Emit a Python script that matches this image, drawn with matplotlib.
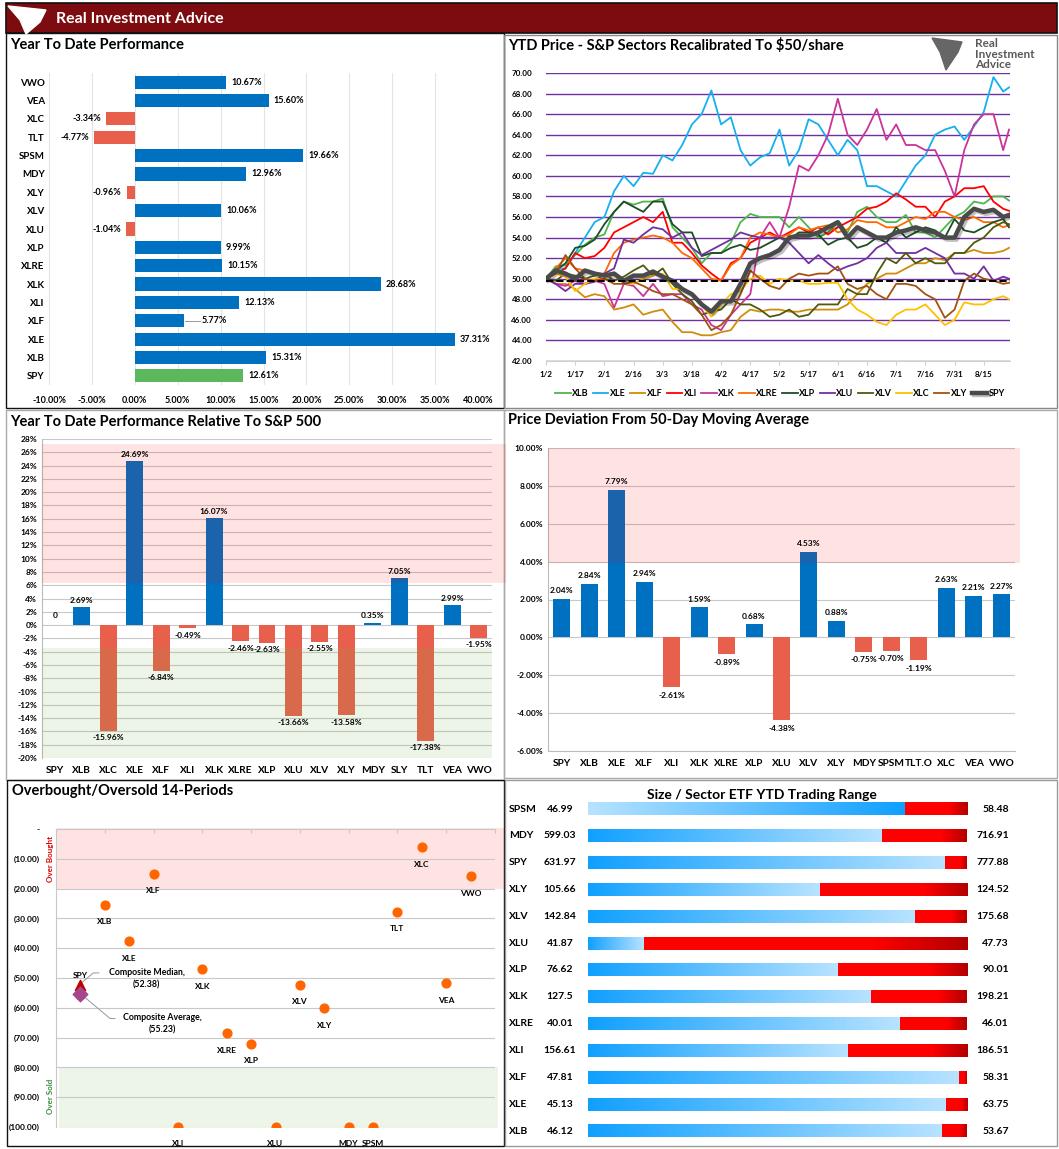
import matplotlib.pyplot as plt
import matplotlib.patheffects as pe
import numpy as np
import pandas as pd
from matplotlib.colors import LinearSegmentedColormap
from matplotlib.patches import Rectangle

plt.rcParams['font.family'] = ['Lato', 'DejaVu Sans']

# ---------------- data ----------------
# YTD performance (top left)
ytd_tickers = ["VWO", "VEA", "XLC", "TLT", "SPSM", "MDY", "XLY", "XLV", "XLU",
               "XLP", "XLRE", "XLK", "XLI", "XLF", "XLE", "XLB", "SPY"]
ytd_values = [10.67, 15.60, -3.34, -4.77, 19.66, 12.96, -0.96, 10.06, -1.04,
              9.99, 10.15, 28.68, 12.13, 5.77, 37.31, 15.31, 12.61]

# YTD price recalibrated to $50 (top right), sampled every 5 days + last day
line_dates = list(pd.date_range("2025-01-02", "2025-08-25", freq="5D")) + [pd.Timestamp("2025-08-28")]
date_ticks = pd.date_range("2025-01-02", "2025-08-15", freq="15D")
xlb = [50, 51.2, 51.3, 52.3, 53.3, 54, 54.3, 56.5, 57.5, 57.2, 57.5, 57.5, 57.8, 55, 54, 53,
       51.5, 52.5, 52.5, 53.5, 55.5, 56.3, 56, 56, 56, 55, 56, 55, 54, 54.5, 55.5, 54.5,
       56.5, 57, 56, 55.5, 55.5, 56.2, 54.5, 54.5, 54, 55, 56, 56.5, 57.5, 57.3, 58, 58, 57.6]
xle = [50, 51, 51, 52.5, 54, 55.5, 56, 58.5, 60, 59, 60.3, 60.2, 62, 61.5, 63, 65,
       66, 68.3, 65, 65.7, 62.5, 61, 61.8, 62.2, 64.5, 61, 62.5, 65.5, 65, 63.5, 62, 63.5,
       62.5, 59, 59, 58.5, 58, 59.5, 61, 62, 64, 64.5, 64.8, 63.5, 64.8, 66.2, 69.6, 68.2, 68.6]
xlf = [50, 49.5, 49.5, 49, 48.2, 48.5, 48.3, 47, 47.2, 47.5, 46.5, 46.8, 47, 45.8, 44.8, 44.8,
       44.5, 44.5, 44.8, 45, 46.3, 47, 46.8, 47, 47, 46.8, 46.8, 47, 47, 47, 47, 47.5,
       48.5, 49.5, 50, 50.5, 50.5, 51, 51.5, 51.5, 52, 51.8, 52.5, 52.5, 52.8, 52.5, 52.5, 52.7, 53]
xli = [50, 50.5, 51, 52.5, 52, 52.2, 53, 54.5, 55, 55.5, 56, 55.5, 56.5, 53.5, 53.5, 52.5,
       51.3, 50.5, 49.8, 51.5, 52, 53.5, 54, 54.5, 54, 54.5, 55, 54.5, 55, 54.3, 55, 55.5,
       56, 56.8, 57, 57.5, 58.3, 57.7, 57, 57, 56, 57.5, 58, 58.8, 58.8, 59, 57.5, 56.8, 56.6]
xlk = [50, 49.5, 49.3, 49.8, 49.5, 49.8, 49.5, 47.2, 49.5, 49.3, 48.3, 49.5, 48.3, 48.5, 48.5, 47.5,
       47, 45.5, 45, 46.5, 47.5, 48.5, 54, 55.5, 54, 57, 61, 60.5, 62, 64, 67.5, 64,
       63, 64.5, 66.5, 63.5, 65, 63, 63, 62.5, 62.5, 60.5, 58, 62.5, 65, 66, 66, 62.5, 64.5]
xlre = [50, 51, 52, 51, 50.8, 50.5, 50.5, 52.5, 53.5, 53.8, 54, 54.2, 54, 53.5, 52.5, 52,
        51, 50, 49.8, 51.3, 52, 54, 54.5, 54.3, 54, 54.3, 55, 54.7, 55, 55.2, 54.5, 54.8,
        55.7, 55.5, 55.5, 55, 55, 55.5, 56, 55.8, 56.5, 56.5, 56, 55.7, 56, 55.5, 55.5, 55, 55.2]
xlp = [50, 50.8, 51.5, 53, 53.2, 53.8, 55.3, 56.5, 57.5, 57, 56.5, 57.5, 57.5, 55.3, 54.5, 54.5,
       52.2, 52.5, 52.5, 53, 53.3, 52.8, 53, 53.5, 54, 53.8, 54.5, 54.5, 54.3, 53.3, 53.8, 54,
       53, 53.3, 54, 53.5, 55, 54, 54.5, 55, 54.7, 54, 55.8, 54.7, 54.5, 55, 55.5, 55.8, 55]
xlu = [50, 49.5, 48.8, 49.5, 49.5, 49.7, 50.5, 51, 53.8, 53.5, 54.3, 55, 54.8, 54, 54.5, 53,
       52.3, 52.8, 53.3, 53.8, 54.5, 54.2, 54, 54, 54, 53.5, 52.5, 51.5, 52.3, 51.5, 50.8, 51.2,
       51.5, 52, 53, 53.5, 52.5, 52.5, 52.5, 53, 52.5, 52, 50.5, 50.5, 50, 51.2, 49.8, 50.2, 50]
xlv = [50, 49.8, 50.5, 50.3, 50, 50.3, 50.5, 49.8, 50.2, 50.8, 51.3, 50.3, 51, 49.5, 48.5, 47.8,
       46.5, 46.8, 47, 48, 47.5, 47.5, 47, 46.3, 46.5, 47, 46.3, 46.5, 47.5, 47.5, 47.5, 49,
       48.5, 48.5, 50.5, 52, 51.5, 52.5, 51.5, 52, 51.5, 51.5, 52.5, 52.5, 53.5, 54, 55, 55.5, 55.3]
xlc = [50, 50.5, 50.2, 48.8, 49.5, 50, 50, 50.5, 49.5, 49.5, 50, 50.3, 50.5, 49, 49, 48.5,
       47.5, 46.3, 47.5, 48.5, 48.8, 50, 50.3, 49.5, 50, 49.8, 49.8, 49.5, 49.5, 49.6, 49.6, 48,
       47, 46.5, 45.8, 45.5, 46.5, 47, 47, 47.5, 46.5, 45.5, 46, 47.7, 47.5, 47.5, 48, 48.3, 48]
xly = [50, 50.5, 52.3, 51, 50, 49.8, 50, 49.5, 49.5, 49.7, 49.3, 48.8, 48.5, 48.5, 48, 47.5,
       46.5, 45, 45.5, 46.5, 48.5, 50.8, 50, 49.3, 49, 50, 50.5, 50.3, 50.5, 50.5, 51.2, 49.5,
       49, 49.3, 48.5, 48, 49.5, 49.5, 49.3, 48.5, 48, 46.2, 47, 49.8, 50.5, 50, 49.8, 49.5, 49.6]
spy = [50, 50.8, 50.5, 50, 50.8, 50.5, 50.3, 50.5, 49.8, 50.3, 50.3, 50.7, 50.2, 49.8, 49, 48.5,
       47.5, 46.8, 47.8, 47.8, 49.5, 51.5, 52, 52.3, 52.8, 54, 54.2, 54.2, 54.5, 55, 55.5, 54,
       55, 54.5, 54, 54, 54.5, 54.7, 55, 54.7, 54.5, 54, 54, 56, 56.8, 56.5, 56.7, 56, 56.2]
baseline = 49.8

# relative to S&P 500 (middle left)
rel_tickers = ["SPY", "XLB", "XLC", "XLE", "XLF", "XLI", "XLK", "XLRE", "XLP", "XLU",
               "XLV", "XLY", "MDY", "SLY", "TLT", "VEA", "VWO"]
rel_values = [0, 2.69, -15.96, 24.69, -6.84, -0.49, 16.07, -2.46, -2.63, -13.66,
              -2.55, -13.58, 0.35, 7.05, -17.38, 2.99, -1.95]

# deviation from 50 DMA (middle right)
dev_tickers = ["SPY", "XLB", "XLE", "XLF", "XLI", "XLK", "XLRE", "XLP", "XLU", "XLV",
               "XLY", "MDY", "SPSM", "TLT.O", "XLC", "VEA", "VWO"]
dev_values = [2.04, 2.84, 7.79, 2.94, -2.61, 1.59, -0.89, 0.68, -4.38, 4.53,
              0.88, -0.75, -0.70, -1.19, 2.63, 2.21, 2.27]

# overbought / oversold (bottom left)
obos_tickers = ["SPY", "XLB", "XLE", "XLF", "XLI", "XLK", "XLRE", "XLP", "XLU",
                "XLV", "XLY", "MDY", "SPSM", "TLT", "XLC", "VEA", "VWO"]
obos_values = [-55.6, -25.6, -37.7, -15.2, -100, -47.1, -68.6, -72, -100,
               -52.2, -60.2, -100, -100, -27.7, -6.2, -51.8, -15.9]
comp_median = -52.38
comp_average = -55.23

# trading range (bottom right)
rng_tickers = ["SPSM", "MDY", "SPY", "XLY", "XLV", "XLU", "XLP", "XLK", "XLRE",
               "XLI", "XLF", "XLE", "XLB"]
rng_low = [46.99, 599.03, 631.97, 105.66, 142.84, 41.87, 76.62, 127.5, 40.01,
           156.61, 47.81, 45.13, 46.12]
rng_high = [58.48, 716.91, 777.88, 124.52, 175.68, 47.73, 90.01, 198.21, 46.01,
            186.51, 58.31, 63.75, 53.67]
rng_cur = [56.6, 690.5, 769.6, 117.2, 171.2, 42.73, 85.44, 180.3, 44.95,
           177.1, 58.1, 62.7, 53.18]

# ---------------- figure helpers ----------------
W, H = 1059, 1149
fig = plt.figure(figsize=(W / 100, H / 100), dpi=100)
fig.patch.set_facecolor('white')


def ax_px(x0, y0, x1, y1):
    return fig.add_axes([x0 / W, 1 - y1 / H, (x1 - x0) / W, (y1 - y0) / H])


def ftext(x, y, s, **kw):
    fig.text(x / W, 1 - y / H, s, **kw)


def frame(x0, y0, x1, y1, color, fc='none', lw=1.0, z=0):
    fig.add_artist(Rectangle((x0 / W, 1 - y1 / H), (x1 - x0) / W, (y1 - y0) / H,
                             transform=fig.transFigure, fill=fc != 'none', fc=fc,
                             ec=color, lw=lw, zorder=z))


BLUE = '#0070c0'
RED = '#e8604c'
GREEN = '#5cb85c'
PINK = (1.0, 0.0, 0.0, 0.11)
LGREEN = (0.44, 0.68, 0.28, 0.12)

# header
frame(6, 3, 1057, 33, '#111111', fc='#7d0c10', lw=1.2)
ftext(56, 19, "Real Investment Advice", color='white', fontsize=11.5, fontweight='bold',
      va='center')
fig.add_artist(plt.Polygon([(8 / W, 1 - 6 / H), (46 / W, 1 - 10 / H), (40 / W, 1 - 22 / H),
                            (26 / W, 1 - 34 / H), (20 / W, 1 - 20 / H)],
                           transform=fig.transFigure, color='white', zorder=5))

# panel frames
frame(6, 33, 504, 408, '#111111')
frame(504, 35, 1057, 408, '#888888')
frame(6, 410, 504, 780, '#aaaaaa')
frame(504, 410, 1057, 778, '#aaaaaa')
frame(7, 780, 504, 1146, '#111111')
frame(505, 780, 1057, 1146, '#999999')

# ---------------- top left: YTD performance ----------------
ftext(10, 45, "Year To Date Performance", fontsize=10.5, fontweight='bold', va='center')
ax1 = ax_px(49, 73, 478, 385)
ypos = np.arange(len(ytd_tickers))
cols = [GREEN if t == "SPY" else (BLUE if v >= 0 else RED) for t, v in zip(ytd_tickers, ytd_values)]
ax1.barh(ypos, ytd_values, height=0.72, color=cols, zorder=3)
ax1.set_ylim(len(ytd_tickers) - 0.5, -0.5)
ax1.set_xlim(-10, 40)
ax1.set_xticks(np.arange(-10, 41, 5))
ax1.set_xticklabels([f"{v:.2f}%" for v in np.arange(-10, 41, 5)], fontsize=6.5, fontweight='bold')
ax1.set_yticks(ypos)
ax1.set_yticklabels(ytd_tickers, fontsize=7, fontweight='bold')
ax1.tick_params(length=0, pad=3)
ax1.tick_params(axis='x', pad=8)
ax1.grid(axis='x', color='#e4e4e4', lw=0.8, zorder=0)
for s in ax1.spines.values():
    s.set_visible(False)
for i, (t, v) in enumerate(zip(ytd_tickers, ytd_values)):
    if t == "XLF":
        ax1.plot([v + 0.1, v + 1.8], [i, i], color='#999999', lw=0.7, zorder=4)
        ax1.text(v + 2.0, i, f"{v:.2f}%", fontsize=6.5, fontweight='bold', va='center')
    elif v >= 0:
        ax1.text(v + 0.6, i, f"{v:.2f}%", fontsize=6.5, fontweight='bold', va='center')
    else:
        ax1.text(v - 0.6, i, f"{v:.2f}%", fontsize=6.5, fontweight='bold', va='center', ha='right')

# ---------------- top right: recalibrated prices ----------------
ftext(508, 45, "YTD Price - S&P Sectors Recalibrated To $50/share", fontsize=10.5,
      fontweight='bold', va='center')
ftext(975, 54, "Real\nInvestment\nAdvice", fontsize=8.5, fontweight='bold', va='center',
      color='#5a5a5a', linespacing=0.9)
fig.add_artist(plt.Polygon([(932 / W, 1 - 38 / H), (962 / W, 1 - 42 / H), (958 / W, 1 - 52 / H),
                            (946 / W, 1 - 70 / H), (940 / W, 1 - 52 / H)],
                           transform=fig.transFigure, color='#666666', zorder=5))
ax2 = ax_px(546, 73, 1010, 361)
series = [("XLB", xlb, '#4cb848'), ("XLE", xle, '#14b0f0'), ("XLF", xlf, '#d08c0c'),
          ("XLI", xli, '#ff0000'), ("XLK", xlk, '#cc3399'), ("XLRE", xlre, '#ff6a00'),
          ("XLP", xlp, '#1e4d26'), ("XLU", xlu, '#7030a0'), ("XLV", xlv, '#4f5a0c'),
          ("XLC", xlc, '#ffc000'), ("XLY", xly, '#a35210')]
for name, vals, c in series:
    ax2.plot(line_dates, vals, color=c, lw=1.3, label=name, zorder=3)
ax2.plot(line_dates, spy, color='#4a4a4a', lw=3.2, label="SPY", zorder=4,
         path_effects=[pe.SimpleLineShadow(offset=(1.5, -1.5), alpha=0.25), pe.Normal()])
ax2.axhline(baseline, color='black', ls='--', lw=1.4, zorder=5)
ax2.set_ylim(42, 70)
ax2.set_yticks(np.arange(42, 71, 2))
ax2.set_yticklabels([f"{v:.2f}" for v in np.arange(42, 71, 2)], fontsize=5.8, fontweight='bold')
ax2.set_xlim(line_dates[0], line_dates[-1] + pd.Timedelta(days=0.5))
ax2.set_xticks(date_ticks)
ax2.set_xticklabels([f"{d.month}/{d.day}" for d in date_ticks], fontsize=5.8, fontweight='bold')
ax2.grid(axis='y', color='#7030a0', lw=1.0, zorder=1)
for s in ['top', 'right', 'left']:
    ax2.spines[s].set_visible(False)
ax2.spines['bottom'].set_color('#d0d0d0')
ax2.tick_params(axis='y', length=0, pad=10)
ax2.tick_params(axis='x', length=3, color='#d0d0d0', pad=4)
fig.legend(*ax2.get_legend_handles_labels(), loc='center', bbox_to_anchor=(780 / W, 1 - 394 / H),
           ncol=12, frameon=False, handlelength=1.7, columnspacing=0.5,
           handletextpad=0.15, prop={'weight': 'bold', 'size': 6.5})

# ---------------- middle left: relative to S&P ----------------
ftext(10, 422, "Year To Date Performance Relative To S&P 500", fontsize=10.5,
      fontweight='bold', va='center')
ax3 = ax_px(42, 439, 492, 758)
x3 = np.arange(len(rel_tickers))
ax3.bar(x3, rel_values, width=0.64, color=[BLUE if v >= 0 else RED for v in rel_values], zorder=3)
ax3.add_patch(Rectangle((0, 6.3), 1.03, 20.9, transform=ax3.get_yaxis_transform(),
                        fc=PINK, ec='none', zorder=4, clip_on=False))
ax3.add_patch(Rectangle((0, -20), 1.0, 16.6, transform=ax3.get_yaxis_transform(),
                        fc=LGREEN, ec='none', zorder=4, clip_on=False))
ax3.set_xlim(-0.5, len(rel_tickers) - 0.5)
ax3.set_ylim(-20, 28)
ax3.set_yticks(np.arange(-20, 29, 2))
ax3.set_yticklabels([f"{v}%" for v in np.arange(-20, 29, 2)], fontsize=6, fontweight='bold')
ax3.set_xticks(x3)
ax3.set_xticklabels(rel_tickers, fontsize=7.3, fontweight='bold')
ax3.grid(axis='y', color='#c8c8c8', lw=0.8, zorder=1)
for s in ['top', 'right', 'bottom']:
    ax3.spines[s].set_visible(False)
ax3.spines['left'].set_color('#bbbbbb')
ax3.tick_params(length=0)
ax3.tick_params(axis='x', pad=6)
for i, v in enumerate(rel_values):
    if v == 0:
        ax3.text(i, 1.5, "0", fontsize=6, fontweight='bold', ha='center', va='center', zorder=6)
    elif v > 0:
        ax3.text(i, v + 0.5, f"{v:.2f}%", fontsize=6, fontweight='bold', ha='center', va='bottom', zorder=6)
    else:
        ax3.text(i, v - 0.5, f"{v:.2f}%", fontsize=6, fontweight='bold', ha='center', va='top', zorder=6)

# ---------------- middle right: deviation from 50 DMA ----------------
ftext(508, 420, "Price Deviation From 50-Day Moving Average", fontsize=10.5,
      fontweight='bold', va='center')
ax4 = ax_px(548, 448, 1015, 751)
x4 = np.arange(len(dev_tickers))
ax4.bar(x4, dev_values, width=0.62, color=[BLUE if v >= 0 else RED for v in dev_values], zorder=3)
ax4.add_patch(Rectangle((0, 3.93), 1.01, 6.07, transform=ax4.get_yaxis_transform(),
                        fc=PINK, ec='none', zorder=4, clip_on=False))
ax4.set_xlim(-0.5, len(dev_tickers) - 0.5)
ax4.set_ylim(-6, 10)
ax4.set_yticks(np.arange(-6, 11, 2))
ax4.set_yticklabels([f"{v:.2f}%" for v in np.arange(-6, 11, 2)], fontsize=6, fontweight='bold')
ax4.set_xticks(x4)
ax4.set_xticklabels(dev_tickers, fontsize=7.3, fontweight='bold')
ax4.grid(axis='y', color='#c8c8c8', lw=0.8, zorder=1)
for s in ['top', 'right']:
    ax4.spines[s].set_visible(False)
ax4.spines['left'].set_color('#bbbbbb')
ax4.spines['bottom'].set_color('#bbbbbb')
ax4.tick_params(length=0)
ax4.tick_params(axis='x', pad=6)
for i, v in enumerate(dev_values):
    if v >= 0:
        ax4.text(i, v + 0.25, f"{v:.2f}%", fontsize=6, fontweight='bold', ha='center', va='bottom', zorder=6)
    else:
        ax4.text(i, v - 0.25, f"{v:.2f}%", fontsize=6, fontweight='bold', ha='center', va='top', zorder=6)

# ---------------- bottom left: overbought / oversold ----------------
ftext(12, 791, "Overbought/Oversold 14-Periods", fontsize=10.5, fontweight='bold', va='center')
ax5 = ax_px(56, 829, 495, 1127)
x5 = np.arange(1, len(obos_tickers) + 1)
ax5.add_patch(Rectangle((0.003, -20), 1.017, 20.5, transform=ax5.get_yaxis_transform(),
                        fc=PINK, ec='none', zorder=0, clip_on=False))
ax5.add_patch(Rectangle((0.007, -100.5), 1.0, 20.8, transform=ax5.get_yaxis_transform(),
                        fc=LGREEN, ec='none', zorder=0, clip_on=False))
ax5.scatter(x5, obos_values, s=40, color='#ff6600', zorder=4)
ax5.scatter([1], [comp_median], s=55, marker='^', color='#c00000', zorder=5)
ax5.scatter([1], [comp_average], s=55, marker='D', color='#a6478e', zorder=5)
for xi, t, v in zip(x5, obos_tickers, obos_values):
    if t == "SPY":
        ax5.text(xi, v + 6.5, t, fontsize=6, fontweight='bold', ha='center', va='center', zorder=6)
    else:
        ax5.text(xi, v - 5.6, t, fontsize=6, fontweight='bold', ha='center', va='center', zorder=6)
ax5.plot([1.76, 1.53, 1.02], [-48.3, -48.3, -51.8], color='#999999', lw=0.7, zorder=3)
ax5.text(3.72, -50.3, f"Composite Median,\n({-comp_median:.2f})", fontsize=6.3,
         fontweight='bold', ha='center', va='center', linespacing=1.5)
ax5.plot([2.42, 2.22, 1.02], [-63.6, -63.6, -55.4], color='#999999', lw=0.7, zorder=3)
ax5.text(4.36, -65.5, f"Composite Average,\n({-comp_average:.2f})", fontsize=6.3,
         fontweight='bold', ha='center', va='center', linespacing=1.5)
ax5.set_xlim(0, 18)
ax5.set_ylim(-100, 0)
ax5.set_yticks(np.arange(-100, 1, 10))
ax5.set_yticklabels([f"({-v:.2f})" if v != 0 else "-" for v in np.arange(-100, 1, 10)],
                    fontsize=6, fontweight='bold')
ax5.xaxis.tick_top()
ax5.set_xticks(np.arange(0, 19, 2))
ax5.set_xticklabels([])
ax5.tick_params(axis='x', direction='in', length=3, color='#c8c8c8')
ax5.tick_params(axis='y', length=0, pad=12)
ax5.grid(axis='y', color='#c8c8c8', lw=0.8, zorder=1)
for s in ['right', 'bottom']:
    ax5.spines[s].set_visible(False)
ax5.spines['left'].set_color('#c8c8c8')
ax5.spines['top'].set_color('#c8c8c8')
ax5.text(-0.013, -10, "Over Bought", transform=ax5.get_yaxis_transform(), rotation=90,
         fontsize=5.8, fontweight='bold', color='#e00000', ha='center', va='center')
ax5.text(-0.013, -89.7, "Over Sold", transform=ax5.get_yaxis_transform(), rotation=90,
         fontsize=5.8, fontweight='bold', color='#3a8a3a', ha='center', va='center')

# ---------------- bottom right: trading range ----------------
ftext(762, 795, "Size / Sector ETF YTD Trading Range", fontsize=10, fontweight='bold',
      ha='center', va='center')
ax6 = ax_px(588, 795.6, 967, 1144.4)
blue_cm = LinearSegmentedColormap.from_list('blues', ['#10a0ff', '#b8e3ff'])
red_cm = LinearSegmentedColormap.from_list('reds', [(0, '#ff0000'), (0.7, '#ff0000'), (1, '#b20000')])
grad = np.linspace(0, 1, 256).reshape(1, -1)
for i, (t, lo, hi, cur) in enumerate(zip(rng_tickers, rng_low, rng_high, rng_cur)):
    f = (cur - lo) / (hi - lo)
    g = grad[:, ::-1] if t == "SPSM" else grad
    ax6.imshow(g, extent=[0, f, i + 0.24, i - 0.24], aspect='auto', cmap=blue_cm, zorder=2)
    ax6.imshow(grad, extent=[f, 1, i + 0.24, i - 0.24], aspect='auto', cmap=red_cm, zorder=2)
    yy = 809 + i * (1131 - 809) / (len(rng_tickers) - 1)
    ftext(509, yy, t, fontsize=7.5, fontweight='bold', va='center')
    ftext(560, yy, f"{lo:g}", fontsize=7.5, fontweight='bold', va='center', ha='center')
    ftext(1009, yy, f"{hi:g}", fontsize=7.5, fontweight='bold', va='center', ha='right')
ax6.set_xlim(0, 1)
ax6.set_ylim(len(rng_tickers) - 0.5, -0.5)
ax6.axis('off')

fig.savefig("out.png", dpi=100, facecolor='white')
